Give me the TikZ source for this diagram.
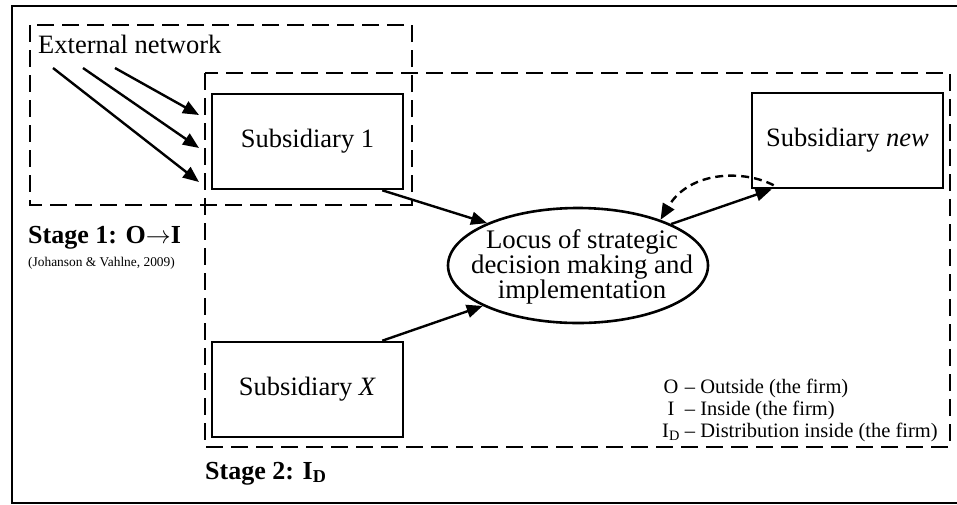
\documentclass[tikz,border=0pt]{standalone}
\usepackage{fontspec}
\setmainfont{Liberation Serif}
\usetikzlibrary{arrows.meta,shapes.geometric}
\begin{document}
\begin{tikzpicture}[x=1pt,y=-1pt,
  box/.style={draw,line width=2.6pt,minimum width=191pt,minimum height=95pt,inner sep=0pt,font=\fontsize{26.5}{28}\selectfont},
  stagebox/.style={line width=2.6pt,dash pattern=on 17pt off 8pt},
  conn/.style={line width=2.4pt,-{Triangle[length=16pt,width=13pt]}},
  lbl/.style={inner sep=0pt,anchor=base west}]
\useasboundingbox (0,0) rectangle (957,504);
% outer frame
\draw[line width=2.2pt] (12,6) rectangle (959,503);
% stage boxes
\draw[stagebox] (30,25) rectangle (412,205);
\draw[stagebox] (205,73) rectangle (950,447);
% nodes
\node[box] (sub1) at (307.5,141.5) {Subsidiary 1};
\node[box] (subX) at (307.5,389.5) {Subsidiary \textit{X}};
\node[box] (subnew) at (847.5,140.5) {Subsidiary \textit{new}};
\node[draw,ellipse,line width=2.6pt,minimum width=260pt,minimum height=115pt,inner sep=0pt] (locus) at (578,265.5) {};
\node[inner sep=0pt,align=center,font=\fontsize{26.8}{24}\selectfont] (locustext) at (582,267) {Locus of strategic\\decision making and\\implementation};
% labels
\node[lbl,font=\fontsize{26.5}{28}\selectfont] (ext) at (38,53) {External network};
\node[lbl,font=\fontsize{26}{28}\selectfont\bfseries] (st1) at (28,243) {Stage 1: O$\rightarrow$I};
\node[lbl,font=\fontsize{13.4}{15}\selectfont] (cite) at (28,266) {(Johanson \& Vahlne, 2009)};
\node[lbl,font=\fontsize{26}{28}\selectfont\bfseries] (st2) at (205,479) {Stage 2: I\textsubscript{D}};
\node[lbl,font=\fontsize{20.5}{22}\selectfont] (legend) at (662,393)
  {\begin{tabular}[t]{@{}c@{\hspace{5pt}}l@{}}O & -- Outside (the firm)\\ I & -- Inside (the firm)\\ I\textsubscript{D} & -- Distribution inside (the firm)\end{tabular}};
% external arrows
\coordinate (e1s) at (115,68); \coordinate (e1e) at (199,115);
\coordinate (e2s) at (83,68);  \coordinate (e2e) at (199,148);
\coordinate (e3s) at (53,68);  \coordinate (e3e) at (199,182);
\draw[conn] (e1s) -- (e1e);
\draw[conn] (e2s) -- (e2e);
\draw[conn] (e3s) -- (e3e);
% connectors
\draw[conn] ([xshift=-22pt]sub1.south east) -- (locus.155);
\draw[conn] ([xshift=-22pt]subX.north east) -- (locus.203);
\draw[conn] (locus.24) -- ([xshift=21pt]subnew.south west);
\draw[line width=2.4pt,dash pattern=on 8pt off 5pt,-{Triangle[length=16pt,width=13pt]}]
  ([xshift=23pt,yshift=4pt]subnew.south west) .. controls (745,170) and (690,170) .. (locus.29);
\end{tikzpicture}
\end{document}
